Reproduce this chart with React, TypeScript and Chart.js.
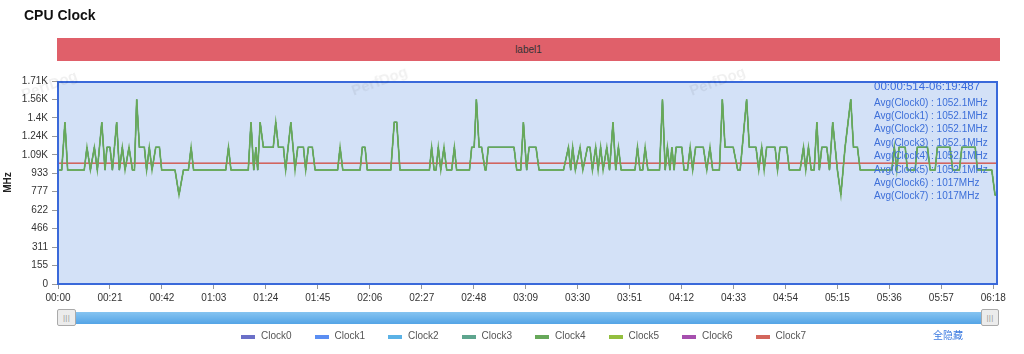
import React, { useEffect, useRef } from 'react';
import { Chart, registerables } from 'chart.js';

Chart.register(...registerables);

const FONT = '"Liberation Sans", Arial, Helvetica, "Noto Sans CJK SC", sans-serif';

const seriesNames = ['Clock0', 'Clock1', 'Clock2', 'Clock3', 'Clock4', 'Clock5', 'Clock6', 'Clock7'];
const seriesColors = ['#6b70c8', '#5b8ef2', '#5bb2e6', '#5ea58e', '#67a85a', '#93bf3f', '#a64fae', '#d3665c'];
const avgMHz = ['1052.1', '1052.1', '1052.1', '1052.1', '1052.1', '1052.1', '1017', '1017'];
const rangeLabel = '00:00:514-06:19:487';

// little-core clock samples (seconds, MHz) — Clock0..Clock5 share these
const sampleSec = [
  0.5, 1.5, 2.8, 3.9, 10.6, 11.7, 13.1, 14.7, 15.9, 17.7, 19.0, 19.8, 21.0, 22.0, 23.7, 24.8,
  26.0, 27.1, 28.7, 30.1, 30.9, 31.8, 32.9, 34.9, 35.8, 36.9, 38.0, 39.5, 41.0, 41.9, 47.3, 48.9,
  50.7, 52.7, 53.8, 54.8, 67.8, 68.9, 69.9, 76.9, 78.0, 79.1, 80.0, 80.7, 81.7, 83.0, 87.0, 88.0,
  89.1, 91.1, 92.0, 94.1, 95.8, 96.9, 99.2, 100.1, 101.2, 102.8, 103.9, 113.0, 114.0, 115.1, 122.1,
  123.0, 124.1, 125.0, 134.5, 135.9, 136.9, 138.2, 150.1, 151.0, 152.0, 152.8, 153.7, 154.7, 156.0,
  157.1, 159.1, 160.2, 161.1, 166.3, 167.2, 168.2, 169.1, 170.2, 171.2, 172.6, 173.0, 173.9, 184.3,
  185.4, 187.0, 188.1, 189.4, 190.4, 193.2, 194.4, 204.3, 206.3, 207.2, 208.0, 209.1, 211.0, 212.1,
  214.0, 215.0, 216.0, 217.3, 218.3, 219.3, 220.3, 221.8, 222.9, 224.3, 225.4, 226.5, 227.6, 233.2,
  234.2, 235.2, 236.3, 237.3, 238.4, 243.1, 244.3, 245.4, 246.3, 247.3, 248.1, 249.0, 249.8, 252.1,
  253.0, 254.4, 255.5, 256.5, 257.7, 260.8, 262.2, 263.5, 264.6, 267.3, 268.5, 269.6, 272.9, 274.7,
  275.7, 278.3, 279.4, 282.1, 283.2, 284.4, 285.4, 286.4, 289.8, 290.8, 291.8, 294.5, 295.6, 299.9,
  301.3, 302.2, 303.3, 304.4, 305.6, 306.7, 307.7, 308.7, 310.7, 311.8, 313.1, 315.0, 316.4, 318.1,
  320.4, 321.5, 323.1, 324.2, 337.0, 338.0, 339.0, 339.9, 342.4, 343.3, 346.4, 347.3, 351.4, 352.5,
  354.5, 355.4, 360.5, 361.6, 364.3, 365.3, 370.7, 371.6, 377.4, 378.7, 379.5,
];
const clockMHz = [
  960, 960, 1363, 960, 960, 1152, 960, 1152, 960, 1363, 960, 1152, 1152, 960, 1363, 960,
  1152, 960, 1152, 960, 960, 1555, 1152, 1152, 960, 1152, 960, 1152, 1152, 960, 960, 750,
  960, 960, 1152, 960, 960, 1152, 960, 960, 1363, 960, 1152, 960, 1363, 1152, 1152, 1363,
  1152, 1152, 960, 1363, 960, 1152, 1152, 960, 1152, 1152, 960, 960, 1152, 960, 960,
  1152, 1152, 960, 960, 1363, 1363, 960, 960, 1152, 960, 960, 1152, 960, 1152,
  960, 960, 1152, 960, 960, 1152, 1152, 1555, 1152, 1152, 960, 960, 1152, 1152,
  960, 960, 1363, 960, 1152, 1152, 960, 960, 1152, 960, 1152, 960, 1152, 960,
  1152, 1152, 960, 1152, 960, 1152, 960, 1152, 960, 1363, 960, 1152, 960, 960,
  1152, 960, 960, 1152, 960, 960, 1555, 960, 1152, 960, 1152, 960, 1152, 1152,
  960, 960, 1152, 960, 1152, 1152, 960, 1152, 960, 960, 1555, 1152, 1152, 960,
  960, 1555, 1152, 1152, 960, 1152, 960, 1152, 1152, 960, 1152, 1152, 960, 960,
  1152, 960, 1152, 960, 960, 1363, 960, 1152, 1152, 960, 1363, 960, 750, 1152,
  1555, 1152, 1152, 960, 960, 1152, 960, 1152, 1152, 960, 960, 1152, 1152, 960,
  960, 1152, 1152, 960, 960, 1152, 1152, 960, 960, 750, 750,
];
// big-core clocks (Clock6, Clock7)
const bigCoreSec = [0.5, 379.5];
const bigCoreMHz = [1017, 1017];

const xTickSec = [0, 21, 42, 63, 84, 105, 126, 147, 168, 189, 210, 231, 252, 273, 294, 315, 336, 357, 378];
const yTickValues = [0, 155.5, 311, 466.5, 622, 777.5, 933, 1088.5, 1244, 1399.5, 1555, 1710.5];
const yTickLabels = ['0', '155', '311', '466', '622', '777', '933', '1.09K', '1.24K', '1.4K', '1.56K', '1.71K'];

const fmtTime = (s: number) => {
  const m = Math.floor(s / 60);
  const r = Math.round(s - m * 60);
  return String(m).padStart(2, '0') + ':' + String(r).padStart(2, '0');
};

const plotFrame = {
  id: 'plotFrame',
  beforeDatasetsDraw(chart: any) {
    const { ctx, chartArea: a } = chart;
    ctx.save();
    ctx.fillStyle = '#d3e1f7';
    ctx.fillRect(a.left, a.top, a.right - a.left, a.bottom - a.top);
    ctx.restore();
  },
  afterDatasetsDraw(chart: any) {
    const { ctx, chartArea: a } = chart;
    ctx.save();
    ctx.strokeStyle = '#3a69da';
    ctx.lineWidth = 2;
    ctx.strokeRect(a.left, a.top + 1, a.right - a.left, a.bottom - a.top - 1);
    ctx.restore();
  },
};

// Clock4 is drawn on top of the identical little-core lines, Clock7 on top of Clock6
const drawOrder = [5, 4, 3, 2, -2, 1, 6, -1];
const lineWidths = [1, 1, 1, 1, 1.6, 1, 1, 1.4];

export default function App() {
  const ref = useRef<HTMLCanvasElement | null>(null);

  useEffect(() => {
    if (!ref.current) return;
    const datasets = seriesNames.map((name, i) => {
      const big = i >= 6;
      const xs = big ? bigCoreSec : sampleSec;
      const ys = big ? bigCoreMHz : clockMHz;
      return {
        label: name,
        data: xs.map((x, k) => ({ x, y: ys[k] })),
        borderColor: seriesColors[i],
        backgroundColor: seriesColors[i],
        borderWidth: lineWidths[i],
        pointRadius: 0,
        tension: 0,
        fill: false,
        order: drawOrder[i],
      };
    });
    const chart = new Chart(ref.current, {
      type: 'line',
      data: { datasets } as any,
      options: {
        animation: false,
        responsive: false,
        devicePixelRatio: 1,
        layout: { padding: { left: 0, top: 81, right: 27, bottom: 0 } },
        plugins: { legend: { display: false }, tooltip: { enabled: false }, title: { display: false } },
        scales: {
          x: {
            type: 'linear',
            min: 0,
            max: 379.5,
            afterBuildTicks: (s: any) => {
              s.ticks = xTickSec.map((v) => ({ value: v }));
            },
            afterFit: (s: any) => {
              s.height = 70;
            },
            ticks: {
              callback: (v: any) => fmtTime(Number(v)),
              font: { size: 10, family: FONT },
              color: '#333',
              maxRotation: 0,
              autoSkip: false,
              padding: 3,
            },
            grid: { drawOnChartArea: false, drawTicks: true, tickLength: 5, tickColor: '#999' },
            border: { display: false },
          },
          y: {
            type: 'linear',
            min: 0,
            max: 1710.5,
            afterBuildTicks: (s: any) => {
              s.ticks = yTickValues.map((v) => ({ value: v }));
            },
            afterFit: (s: any) => {
              s.width = 58;
            },
            ticks: {
              callback: (_v: any, i: number) => yTickLabels[i],
              font: { size: 10, family: FONT },
              color: '#333',
              padding: 4,
              autoSkip: false,
            },
            grid: { drawOnChartArea: false, drawTicks: true, tickLength: 6, tickColor: '#999' },
            border: { display: false },
            title: {
              display: true,
              text: 'MHz',
              color: '#222',
              font: { size: 10, weight: 'bold', family: FONT },
              padding: { top: 2, bottom: 0 },
            },
          },
        },
      } as any,
      plugins: [plotFrame],
    });
    return () => chart.destroy();
  }, []);

  const abs = (s: React.CSSProperties): React.CSSProperties => ({ position: 'absolute', ...s });

  return (
    <div style={{ position: 'absolute', left: 0, top: 0, width: 1024, height: 354, fontFamily: FONT, background: '#fff', overflow: 'hidden' }}>
      <canvas ref={ref} width={1024} height={354} style={abs({ left: 0, top: 0, width: 1024, height: 354 })} />
      <div style={abs({ left: 24, top: 7, fontSize: 14, lineHeight: '16px', fontWeight: 'bold', color: '#111' })}>CPU Clock</div>
      <div style={abs({ left: 57, top: 38, width: 943, height: 23, background: '#e0606a', color: '#333', fontSize: 10, lineHeight: '23px', textAlign: 'center' })}>label1</div>
      {[{ l: 20, t: 76 }, { l: 350, t: 72 }, { l: 688, t: 72 }].map((p, i) => (
        <div key={i} style={abs({ left: p.l, top: p.t, fontSize: 15, fontWeight: 'bold', color: 'rgba(0,0,0,0.06)', transform: 'rotate(-20deg)', whiteSpace: 'nowrap' })}>PerfDog</div>
      ))}
      <div style={abs({ left: 874, top: 78.5, fontSize: 11.5, lineHeight: '14px', color: '#3a6bdc', whiteSpace: 'nowrap' })}>{rangeLabel}</div>
      <div style={abs({ left: 874, top: 95.6, fontSize: 10, lineHeight: '13.4px', color: '#3d6fd9', whiteSpace: 'nowrap' })}>
        {seriesNames.map((n, i) => (
          <div key={n}>{`Avg(${n}) : ${avgMHz[i]}MHz`}</div>
        ))}
      </div>
      <div style={abs({ left: 62, top: 311.5, width: 930, height: 12, background: 'linear-gradient(#86c4f1, #54a4e6)' })} />
      {[{ l: 57, w: 17 }, { l: 981, w: 16 }].map((h, i) => (
        <div key={i} style={abs({ left: h.l, top: 309, width: h.w, height: 15, background: '#ececec', border: '1px solid #aaa', borderRadius: 2, color: '#999', fontSize: 8, lineHeight: '15px', textAlign: 'center', letterSpacing: 0.3 })}>|||</div>
      ))}
      {seriesNames.map((n, i) => (
        <div key={n} style={abs({ left: 241 + i * 73.5, top: 330, height: 12, whiteSpace: 'nowrap' })}>
          <span style={abs({ left: 0, top: 5, width: 14, height: 4, background: seriesColors[i] })} />
          <span style={abs({ left: 20, top: 0, fontSize: 10, lineHeight: '12px', color: '#555' })}>{n}</span>
        </div>
      ))}
      <div style={abs({ left: 933, top: 330, fontSize: 10, lineHeight: '12px', color: '#3d7be0', whiteSpace: 'nowrap' })}>全隐藏</div>
    </div>
  );
}
